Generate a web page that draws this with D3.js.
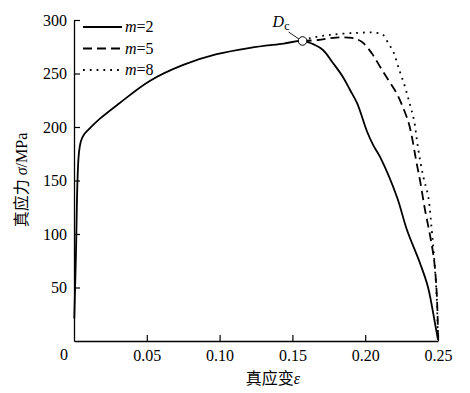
<!DOCTYPE html>
<html><head><meta charset="utf-8">
<script src="https://cdn.jsdelivr.net/npm/d3@7"></script>
<style>
body{margin:0;background:#fff;}
svg text{font-family:"Liberation Serif","Times New Roman","Noto Sans CJK SC",serif;fill:#000;}
</style></head>
<body><svg id="c" width="470" height="393"></svg>
<script>
// Shared hardening branch (strain, stress) up to Dc
const hardening = [[0.0002,21],[0.0014,85],[0.0024,150],[0.0034,176],[0.0048,187],[0.0069,193],[0.0096,197],[0.018,208],[0.031,222],[0.052,243],[0.075,258],[0.098,268],[0.121,274],[0.144,278],[0.157,280.4]];
const soft_m2 = [[0.1655,276.6],[0.171,272],[0.178,259.6],[0.1847,246.8],[0.1896,234.6],[0.1945,222],[0.2012,196],[0.2055,183],[0.2102,172],[0.2218,134.6],[0.2287,103.7],[0.2376,72.9],[0.2431,50.5],[0.2479,16.8],[0.25,1]];
const soft_m5 = [[0.1676,281.3],[0.18,283.6],[0.1909,283.2],[0.1976,279.7],[0.2045,268.9],[0.2102,256.4],[0.2159,243.9],[0.2216,231.5],[0.2262,217.5],[0.2296,205],[0.2321,190.7],[0.2349,169.2],[0.2376,150.5],[0.2411,122.4],[0.2445,99],[0.2473,75.7],[0.249,47.7],[0.2498,19.6],[0.25,1]];
const soft_m8 = [[0.1621,283],[0.1758,286],[0.1942,288],[0.2079,288],[0.2124,286],[0.2159,278],[0.2193,270.4],[0.2234,253.3],[0.2273,237.7],[0.2308,220.6],[0.2335,206.5],[0.2365,178.5],[0.2399,153.6],[0.2433,134.9],[0.2457,103.7],[0.2473,78.8],[0.2491,41.4],[0.2498,10.3],[0.25,1]];
const dc = [0.157,280.4];
const xTicks = [0.05,0.10,0.15,0.20,0.25];
const xTickLabels = ["0.05","0.10","0.15","0.20","0.25"];
const yTicks = [50,100,150,200,250,300];
const legendLabels = ["2","5","8"];

const serif = '"Liberation Serif","Times New Roman",serif';
const svg = d3.select("#c");
const x = d3.scaleLinear().domain([0,0.25]).range([74,438]);
const y = d3.scaleLinear().domain([0,300]).range([341,20]);

// axes
const gx = svg.append("g").attr("transform","translate(0,341)")
  .call(d3.axisBottom(x).tickValues(xTicks).tickSize(-6).tickFormat((d,i)=>xTickLabels[i]).tickSizeOuter(0));
gx.select(".domain").attr("stroke","#000").attr("stroke-width",1.3);
gx.selectAll(".tick line").attr("stroke","#000").attr("stroke-width",1.2);
gx.selectAll(".tick text").attr("y",9).attr("font-size",16).style("font-family",serif);
svg.append("text").attr("x",64).attr("y",360).attr("text-anchor","middle").attr("font-size",16).style("font-family",serif).text("0");

const gy = svg.append("g").attr("transform","translate(74,0)")
  .call(d3.axisLeft(y).tickValues(yTicks).tickSize(-6).tickSizeOuter(0));
gy.select(".domain").attr("stroke","#000").attr("stroke-width",1.3);
gy.selectAll(".tick line").attr("stroke","#000").attr("stroke-width",1.2);
gy.selectAll(".tick text").attr("x",-7).attr("font-size",16).style("font-family",serif);

// curves
const line = d3.line().x(d=>x(d[0])).y(d=>y(d[1])).curve(d3.curveCatmullRom.alpha(0.5));
svg.append("path").datum([dc].concat(soft_m8)).attr("d",line).attr("fill","none")
  .attr("stroke","#000").attr("stroke-width",1.8).attr("stroke-dasharray","1.8,5").attr("stroke-linecap","butt");
svg.append("path").datum([dc].concat(soft_m5)).attr("d",line).attr("fill","none")
  .attr("stroke","#000").attr("stroke-width",1.8).attr("stroke-dasharray","9,5");
svg.append("path").datum(hardening.concat(soft_m2)).attr("d",line).attr("fill","none")
  .attr("stroke","#000").attr("stroke-width",1.8);

// Dc marker
svg.append("line").attr("x1",x(dc[0])-14).attr("y1",y(dc[1])-9).attr("x2",x(dc[0])-3).attr("y2",y(dc[1])-1.5)
  .attr("stroke","#000").attr("stroke-width",0.9);
svg.append("circle").attr("cx",x(dc[0])).attr("cy",y(dc[1])).attr("r",4.3)
  .attr("fill","#fff").attr("stroke","#000").attr("stroke-width",1);
const dct = svg.append("text").attr("x",x(dc[0])-30).attr("y",y(dc[1])-14).attr("font-size",16).style("font-family",serif);
dct.append("tspan").attr("font-style","italic").text("D");
dct.append("tspan").attr("font-size",12).attr("dy",3).text("c");

// legend
const dashes = [null,"9,5","1.8,5"];
legendLabels.forEach((m,i)=>{
  const yy = 27 + i*21.5;
  svg.append("line").attr("x1",83).attr("x2",122).attr("y1",yy).attr("y2",yy)
    .attr("stroke","#000").attr("stroke-width",1.8).attr("stroke-dasharray",dashes[i]);
  const t = svg.append("text").attr("x",125).attr("y",yy+5).attr("font-size",16).style("font-family",serif);
  t.append("tspan").attr("font-style","italic").text("m");
  t.append("tspan").text("="+m);
});

// axis titles
const yl = svg.append("text").attr("transform","translate(27,180) rotate(-90)").attr("text-anchor","middle").attr("font-size",16);
yl.append("tspan").style("font-family","Noto Sans CJK SC").text("真应力");
yl.append("tspan").attr("font-style","italic").style("font-family",serif).text(" σ");
yl.append("tspan").style("font-family",serif).text("/MPa");
const xl = svg.append("text").attr("x",273).attr("y",384).attr("text-anchor","middle").attr("font-size",16);
xl.append("tspan").style("font-family","Noto Sans CJK SC").text("真应变");
xl.append("tspan").attr("font-style","italic").style("font-family",serif).text("ε");
</script></body></html>
